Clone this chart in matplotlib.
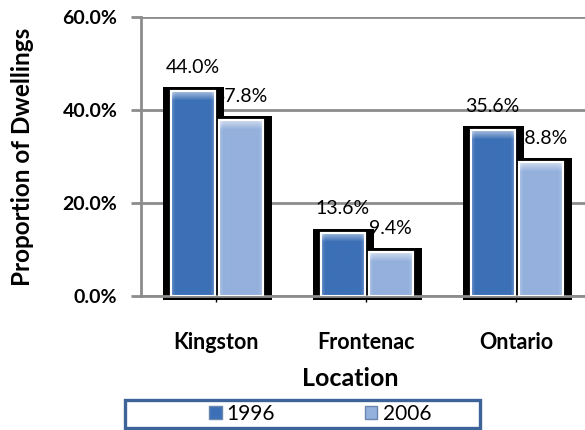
import matplotlib.pyplot as plt
import matplotlib.patches as mpatches
import matplotlib.colors as mcolors
import numpy as np

locations = ['Kingston', 'Frontenac', 'Ontario']
years = ['1996', '2006']
pct_1996 = [44.0, 13.6, 35.6]
pct_2006 = [37.8, 9.4, 28.8]

plt.rcParams['font.family'] = ['Lato', 'DejaVu Sans']

fig = plt.figure(figsize=(5.85, 4.30), dpi=100)
ax = fig.add_axes([141/585, 1 - 296/430, 450/585, 279/430])

x = np.arange(len(locations))
w = 0.29
offs = [-0.155, 0.165]
cols = ['#3c70b6', '#94b0dc']
px = 1/150.0   # data units per pixel along x
py = 60/279.0  # data units per pixel along y


def bevel(patch, color):
    # light bevel along top and sides of a bar, clipped to the bar
    bx, by = patch.get_x(), patch.get_y()
    bw, bh = patch.get_width(), patch.get_height()
    nw = max(int(round(bw/px)), 2)
    nh = max(int(round(bh/py)), 2)
    yy, xx = np.mgrid[0:nh, 0:nw]
    d_top = yy
    d_side = np.minimum(xx, nw - 1 - xx)
    t = np.clip(1 - d_top/9.0, 0, 1)*0.55 + np.clip(1 - d_side/4.0, 0, 1)*0.2
    t = np.clip(t, 0, 0.6)
    base = np.array(mcolors.to_rgb(color))
    img = base*(1 - t[..., None]) + np.ones(3)*t[..., None]
    im = ax.imshow(img, extent=(bx, bx + bw, by, by + bh), origin='upper',
                   aspect='auto', zorder=3.5, interpolation='bilinear')
    im.set_clip_path(patch)


# black shadow boxes behind bars
for vals, o in zip([pct_1996, pct_2006], offs):
    ax.bar(x + o + 0.5*px, np.array(vals) + 8*py, bottom=-4*py,
           width=w + 17*px, color='black', zorder=2, clip_on=False)

for vals, o, c in zip([pct_1996, pct_2006], offs, cols):
    bars = ax.bar(x + o, vals, width=w, color=c, edgecolor='white',
                  linewidth=1.5, zorder=3)
    for p in bars:
        bevel(p, c)
        edge = mpatches.Rectangle((p.get_x(), p.get_y()), p.get_width(),
                                  p.get_height(), fill=False,
                                  edgecolor='white', linewidth=1.5, zorder=4)
        ax.add_patch(edge)
    for xi, v in zip(x + o, vals):
        ax.annotate('%.1f%%' % v, (xi, v), xytext=(0, 11),
                    textcoords='offset points', ha='center', va='bottom',
                    fontsize=14, zorder=1.5)

ax.set_xlim(-0.5, 2.5)
ax.set_ylim(0, 60)
ax.set_yticks([0, 20, 40, 60])
ax.set_yticklabels(['0.0%', '20.0%', '40.0%', '60.0%'],
                   fontsize=14, fontweight='bold')
ax.set_xticks(x)
ax.set_xticklabels(locations, fontsize=15.5, fontweight='bold')
ax.tick_params(axis='y', length=7, width=2, color='#8c8c8c', pad=10)
ax.tick_params(axis='x', length=4, width=1, color='black', pad=22)

ax.grid(axis='y', color='#8c8c8c', linewidth=2, zorder=0)
ax.set_axisbelow(True)
for s in ['top', 'right']:
    ax.spines[s].set_visible(False)
for s in ['left', 'bottom']:
    ax.spines[s].set_color('#8c8c8c')
    ax.spines[s].set_linewidth(2)

ax.set_ylabel('Proportion of Dwellings', fontsize=17.5, fontweight='bold')
ax.yaxis.set_label_coords(-(141 - 34)/450, 0.5)
fig.text(350/585, 1 - 378/430, 'Location', fontsize=18, fontweight='bold',
         ha='center', va='center')

# legend box
fig.patches.append(mpatches.Rectangle((125/585, 1 - 428/430), 355/585,
                                      28/430, transform=fig.transFigure,
                                      fill=False, edgecolor='#3d6498',
                                      linewidth=2.4))
handles = [mpatches.Patch(facecolor=c, edgecolor='#6a86b0') for c in cols]
leg = fig.legend(handles, years, loc='center',
                 bbox_to_anchor=(320/585, 1 - 414/430), ncol=2,
                 fontsize=15, frameon=False,
                 columnspacing=4.3, handlelength=0.6, handleheight=0.6,
                 handletextpad=0.25, borderpad=0.1, borderaxespad=0)

fig.savefig('out.png', dpi=100)
